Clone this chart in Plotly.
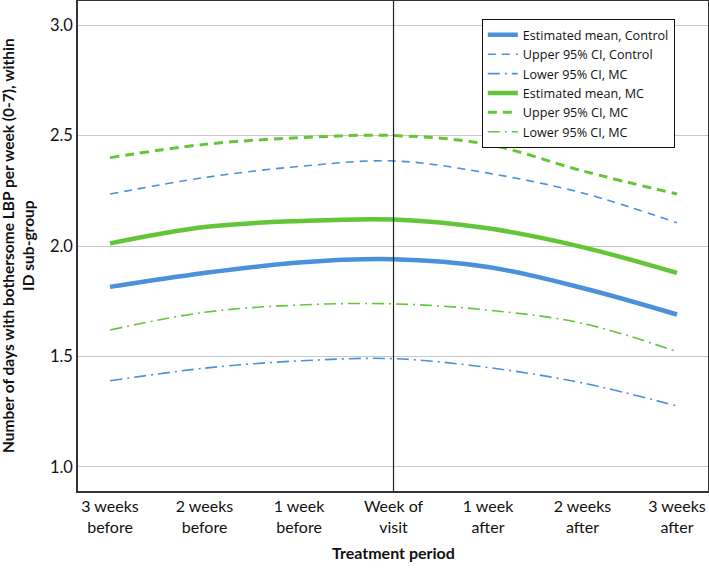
import plotly.graph_objects as go

periods = ["3 weeks<br>before", "2 weeks<br>before", "1 week<br>before", "Week of<br>visit",
           "1 week<br>after", "2 weeks<br>after", "3 weeks<br>after"]
x_idx = [0, 1, 2, 3, 4, 5, 6]

mean_control = [1.815, 1.878, 1.925, 1.940, 1.905, 1.810, 1.690]
upper_control = [2.235, 2.310, 2.360, 2.385, 2.330, 2.240, 2.105]
lower_control = [1.390, 1.447, 1.480, 1.490, 1.450, 1.380, 1.276]
mean_mc = [2.012, 2.086, 2.113, 2.120, 2.080, 1.995, 1.878]
upper_mc = [2.400, 2.460, 2.490, 2.500, 2.460, 2.340, 2.235]
lower_mc = [1.620, 1.700, 1.733, 1.738, 1.710, 1.650, 1.522]

BLUE = "#4A90DA"
GREEN = "#63C538"

fig = go.Figure()
series = [
    ("Estimated mean, Control", mean_control, BLUE, 4.5, "solid"),
    ("Upper 95% CI, Control", upper_control, BLUE, 1.6, "8px,6px"),
    ("Lower 95% CI, MC", lower_control, BLUE, 1.6, "12px,5px,2px,5px"),
    ("Estimated mean, MC", mean_mc, GREEN, 4.5, "solid"),
    ("Upper 95% CI, MC", upper_mc, GREEN, 3, "9px,6px"),
    ("Lower 95% CI, MC", lower_mc, GREEN, 1.6, "12px,5px,2px,5px"),
]
for name, ys, col, w, dash in series:
    fig.add_trace(go.Scatter(x=x_idx, y=ys, mode="lines", name=name,
                             line=dict(color=col, width=w, dash=dash, shape="spline", smoothing=1.0)))

fig.add_shape(type="line", xref="x", yref="paper", x0=3, x1=3, y0=0, y1=1,
              line=dict(color="#222222", width=1.2), layer="above")

FONT = "Lato, Open Sans, sans-serif"
fig.update_layout(
    width=709, height=568,
    margin=dict(l=78, r=1, t=1, b=77, autoexpand=False),
    paper_bgcolor="white", plot_bgcolor="white",
    font=dict(family=FONT, size=16, color="#111111"),
    showlegend=True,
    legend=dict(x=0.641, y=0.963, xanchor="left", yanchor="top",
                bordercolor="#111111", borderwidth=1, bgcolor="white",
                font=dict(size=12.6, family="Open Sans, sans-serif"), tracegroupgap=0,
                itemwidth=30),
    xaxis=dict(range=[-0.339, 6.328], tickmode="array", tickvals=x_idx, ticktext=periods,
               showgrid=False, zeroline=False, showline=True, linecolor="#333333", linewidth=1.5,
               mirror=True, ticks="", automargin=False, tickfont=dict(size=16)),
    yaxis=dict(range=[0.891, 3.109], tickmode="array", tickvals=[1.0, 1.5, 2.0, 2.5, 3.0],
               ticktext=["1.0", "1.5", "2.0", "2.5", "3.0"],
               showgrid=True, gridcolor="#C8C8C8", gridwidth=1, zeroline=False,
               showline=True, linecolor="#333333", linewidth=1.5, mirror=True, ticks="",
               automargin=False, tickfont=dict(size=16.5)),
    annotations=[
        dict(text="<b>Treatment period</b>", xref="paper", yref="paper",
             x=0.5, y=-0.125, xanchor="center", yanchor="middle", yshift=0,
             showarrow=False, font=dict(size=16, family=FONT)),
        dict(text="<b>Number of days with bothersome LBP per week (0-7), within<br>ID sub-group</b>",
             xref="paper", yref="paper", x=0, y=0.5, xshift=-60, textangle=-90,
             xanchor="center", yanchor="middle", showarrow=False,
             font=dict(size=15.5, family=FONT)),
    ],
)

fig.write_html("out.html", config={"displayModeBar": False},
               post_script="document.body.style.margin='0';document.body.style.padding='0';")
